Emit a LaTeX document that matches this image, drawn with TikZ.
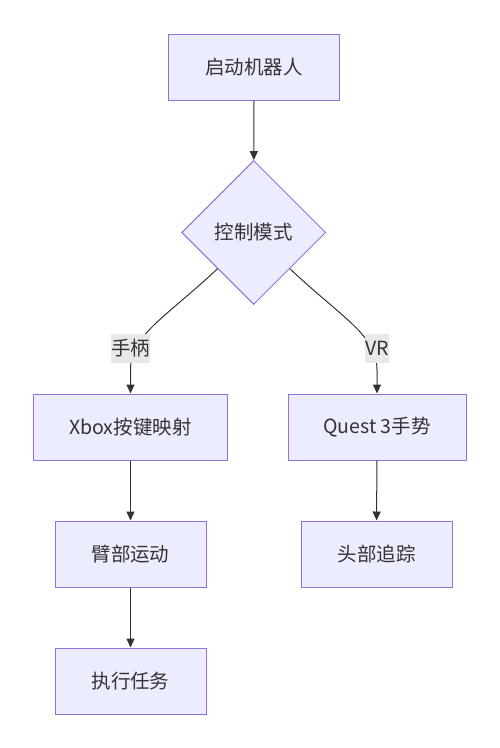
\documentclass[tikz,border=0pt]{standalone}
\usepackage{fontspec}
\setmainfont{Noto Sans CJK SC}
\usetikzlibrary{shapes.geometric,arrows.meta}
\definecolor{nodefill}{HTML}{ECECFF}
\definecolor{nodeline}{HTML}{9370DB}
\definecolor{edgecol}{HTML}{333333}
\definecolor{lblbg}{HTML}{E8E8E8}
\begin{document}
\begin{tikzpicture}[x=1pt,y=-1pt,
  box/.style={draw=nodeline, fill=nodefill, line width=1pt, minimum height=66pt, inner sep=0pt, font=\fontsize{19.5}{23}\selectfont, text=edgecol},
  dia/.style={diamond, draw=nodeline, fill=nodefill, line width=1pt, minimum width=144pt, minimum height=144pt, inner sep=0pt, aspect=1, font=\fontsize{19.5}{23}\selectfont, text=edgecol},
  arr/.style={draw=edgecol, line width=1pt, -{Triangle[length=9pt,width=8pt]}},
  lbl/.style={fill=lblbg, inner xsep=0.3pt, inner ysep=0pt, minimum height=29pt, font=\fontsize{19.5}{23}\selectfont, text=edgecol}
]
\useasboundingbox (0,0) rectangle (500,748);
\node[box, minimum width=171pt] (a) at (254,67) {启动机器人};
\node[dia] (b) at (253.7,232.5) {控制模式};
\node[box, minimum width=194pt] (c) at (130.5,427) {Xbox按键映射};
\node[box, minimum width=178pt] (d) at (377,427) {Quest 3手势};
\node[box, minimum width=151pt] (e) at (130.5,554) {臂部运动};
\node[box, minimum width=151pt] (f) at (376.5,554) {头部追踪};
\node[box, minimum width=151pt] (g) at (130.5,681) {执行任务};

\draw[arr] (a) -- (b);
\draw[arr] (b.south west) .. controls (165,318) and (130.5,335) .. (130.5,370) -- (c.north);
\draw[arr] (b.south east) .. controls (342,318) and (377,335) .. (377,370) -- (d.north);
\node[lbl] (l1) at (130.5,348.5) {手柄};
\node[lbl] (l2) at (377,348.5) {VR};
\draw[arr] (c) -- (e);
\draw[arr] (e) -- (g);
\draw[arr] (d) -- (f);
\end{tikzpicture}
\end{document}
